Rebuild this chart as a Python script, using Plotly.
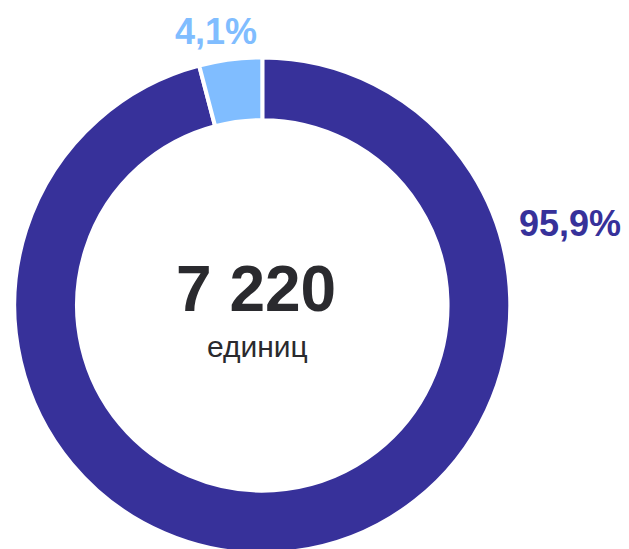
import plotly.graph_objects as go

labels = ["Основная часть", "Прочее"]
values = [6924, 296]
pct_labels = ["95,9%", "4,1%"]
colors = ["#37319A", "#80BDFF"]
total_text = "7 220"
unit_text = "единиц"

FONT = "Liberation Sans, Arial, sans-serif"

fig = go.Figure(go.Pie(
    labels=labels,
    values=values,
    hole=0.747,
    sort=False,
    direction="clockwise",
    rotation=0,
    marker=dict(colors=colors, line=dict(color="white", width=4)),
    textinfo="none",
    hoverinfo="label+value+percent",
    showlegend=False,
    domain=dict(x=[0.0100, 0.7986], y=[0.0066, 0.910]),
))

def ann(x, y, text, size, color):
    fig.add_annotation(x=x, y=y, xref="paper", yref="paper", text=text,
                       xanchor="center", yanchor="middle", showarrow=False,
                       font=dict(family=FONT, size=size, color=color))

ann(0.395, 0.488, "<b>" + total_text + "</b>", 64, "#2A2A2E")
ann(0.396, 0.384, unit_text, 30, "#2A2A2E")
ann(0.8927, 0.6066, "<b>" + pct_labels[0] + "</b>", 36, colors[0])
ann(0.3307, 0.958, "<b>" + pct_labels[1] + "</b>", 36, colors[1])

fig.update_layout(
    width=629, height=549,
    margin=dict(l=0, r=0, t=0, b=0),
    paper_bgcolor="white", plot_bgcolor="white",
)
fig.write_html("out.html")
